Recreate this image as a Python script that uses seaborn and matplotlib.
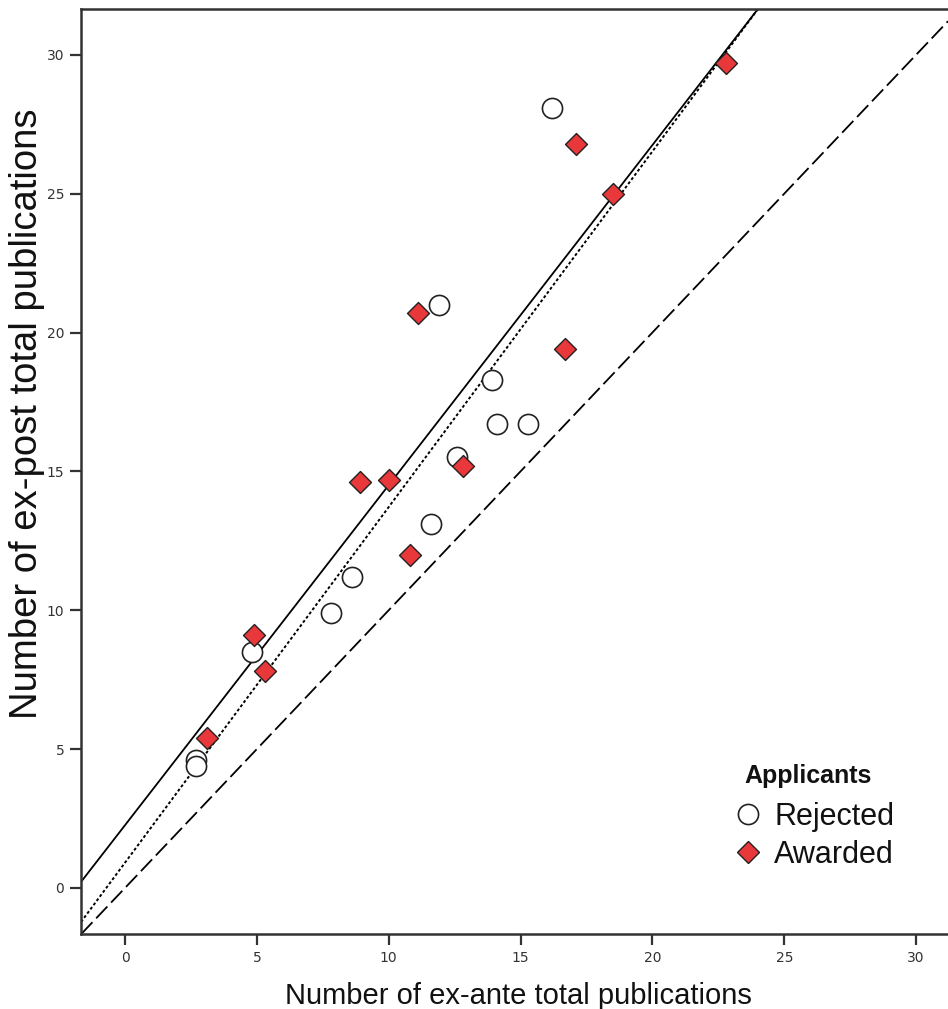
import numpy as np
import pandas as pd
import matplotlib.pyplot as plt
from matplotlib.lines import Line2D
import seaborn as sns

# ex-ante vs ex-post publications per applicant
rejected_x = [2.7, 2.7, 4.8, 7.8, 8.6, 11.6, 12.6, 11.9, 13.9, 14.1, 15.3, 16.2]
rejected_y = [4.6, 4.4, 8.5, 9.9, 11.2, 13.1, 15.5, 21.0, 18.3, 16.7, 16.7, 28.1]
awarded_x = [3.1, 4.9, 5.3, 8.9, 10.0, 10.8, 11.1, 12.8, 16.7, 17.1, 18.5, 22.8]
awarded_y = [5.4, 9.1, 7.8, 14.6, 14.7, 12.0, 20.7, 15.2, 19.4, 26.8, 25.0, 29.7]

# reference lines (intercept, slope)
fit_solid = (2.26, 1.2245)
fit_dotted = (0.91, 1.2806)

df = pd.DataFrame({
    "ante": rejected_x + awarded_x,
    "post": rejected_y + awarded_y,
    "Applicants": ["Rejected"] * len(rejected_x) + ["Awarded"] * len(awarded_x),
})

sns.set_style("white")
plt.rcParams["font.family"] = ["Liberation Sans", "DejaVu Sans"]

red = "#e8383a"
fig = plt.figure(figsize=(9.48, 10.09), dpi=100)
ax = fig.add_axes([81 / 948, 75 / 1009, 867 / 948, 925 / 1009])

ax.axline((0, 0), slope=1, color="black", lw=1.3, dashes=(9, 3))
ax.axline((0, fit_dotted[0]), slope=fit_dotted[1], color="black", lw=1.4, dashes=(1.5, 1.2))
ax.axline((0, fit_solid[0]), slope=fit_solid[1], color="black", lw=1.3)

sns.scatterplot(data=df[df.Applicants == "Rejected"], x="ante", y="post", marker="o",
                s=210, color="white", edgecolor="#222222", linewidth=1.2, ax=ax, legend=False, zorder=3)
sns.scatterplot(data=df[df.Applicants == "Awarded"], x="ante", y="post", marker="D",
                s=125, color=red, edgecolor="#222222", linewidth=1.0, ax=ax, legend=False, zorder=4)

ax.set_xlim(-1.67, 31.21)
ax.set_ylim(-1.66, 31.65)
ax.set_xticks(range(0, 31, 5))
ax.set_yticks(range(0, 31, 5))
ax.tick_params(direction="out", length=8, width=1.6, color="#333333",
               labelsize=10, labelcolor="#333333", pad=4,
               bottom=True, left=True)
for lab in ax.get_xticklabels() + ax.get_yticklabels():
    lab.set_family("DejaVu Sans")
for side in ["left", "bottom", "top"]:
    ax.spines[side].set_color("#333333")
    ax.spines[side].set_linewidth(1.8)
ax.spines["right"].set_visible(False)

ax.set_xlabel("Number of ex-ante total publications", fontsize=21, color="#111111")
ax.set_ylabel("Number of ex-post total publications", fontsize=27.5, color="#111111")
ax.xaxis.set_label_coords(0.505, -0.052)
ax.yaxis.set_label_coords(-0.042, 0.562)

handles = [
    Line2D([], [], marker="o", ls="", markersize=14.5, markerfacecolor="white",
           markeredgecolor="#222222", markeredgewidth=1.2, label="Rejected"),
    Line2D([], [], marker="D", ls="", markersize=11, markerfacecolor=red,
           markeredgecolor="#222222", markeredgewidth=1.0, label="Awarded"),
]
leg = ax.legend(handles=handles, frameon=False, fontsize=22, labelcolor="#111111",
                loc="center", bbox_to_anchor=(0.845, 0.106), handletextpad=0.35,
                labelspacing=0.25, handlelength=1.0, borderpad=0.0)
ax.text(0.8385, 0.1708, "Applicants", transform=ax.transAxes, fontsize=18,
        fontweight="bold", ha="center", va="center", color="#111111")

fig.savefig("out.png", dpi=100)
